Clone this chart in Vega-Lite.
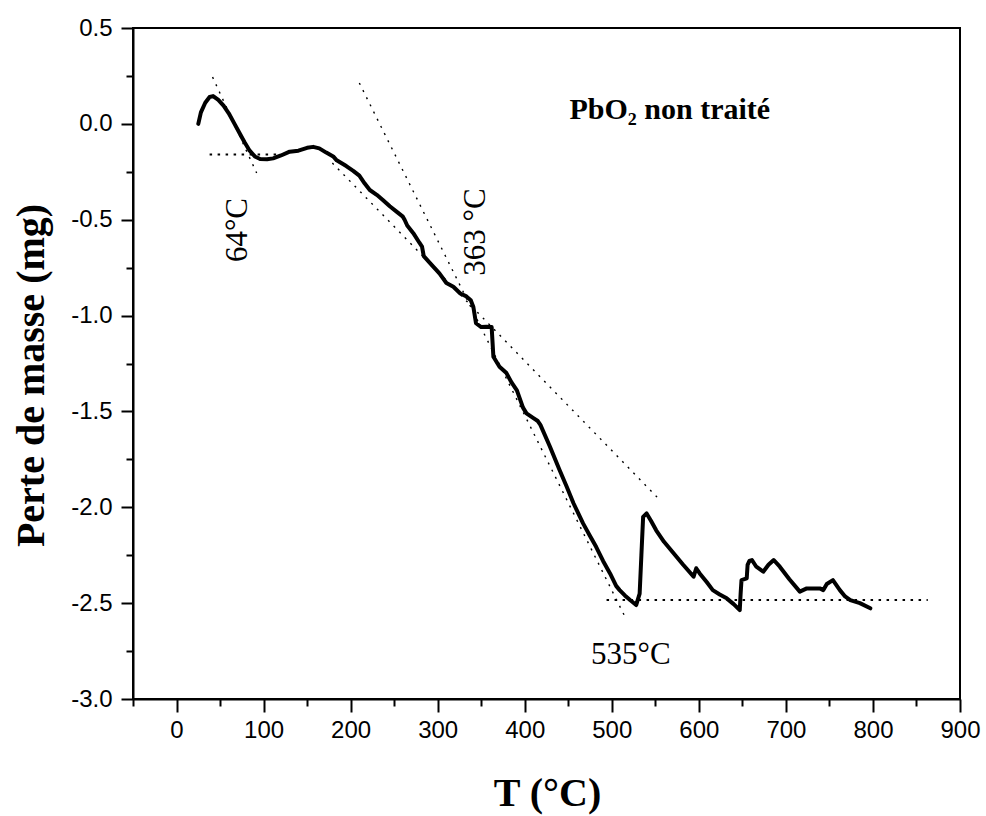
{
  "$schema": "https://vega.github.io/schema/vega-lite/v6.json",
  "width": 827,
  "height": 671,
  "autosize": {"type": "none"},
  "padding": {"left": 133, "top": 28, "right": 26, "bottom": 117},
  "background": "white",
  "config": {
    "view": {"stroke": "black", "strokeWidth": 2},
    "axis": {"grid": false, "domainColor": "black", "domainWidth": 2, "tickColor": "black", "tickWidth": 2, "labelColor": "black", "titleColor": "black", "labelFont": "Liberation Sans", "labelFontSize": 24, "titleFont": "Liberation Serif", "titleFontWeight": "bold", "titleFontSize": 40, "labelFlush": false, "labelOverlap": false}
  },
  "datasets": {
    "curve": [
      {"T": 25, "v": 0.0}, {"T": 28, "v": 0.06}, {"T": 33, "v": 0.11}, {"T": 38, "v": 0.14}, {"T": 42, "v": 0.145},
      {"T": 48, "v": 0.125}, {"T": 54, "v": 0.095}, {"T": 60, "v": 0.055}, {"T": 66, "v": 0.005}, {"T": 72, "v": -0.045},
      {"T": 78, "v": -0.095}, {"T": 84, "v": -0.14}, {"T": 90, "v": -0.17}, {"T": 96, "v": -0.183}, {"T": 104, "v": -0.185}, {"T": 111, "v": -0.18},
      {"T": 120, "v": -0.165}, {"T": 130, "v": -0.145}, {"T": 140, "v": -0.14}, {"T": 150, "v": -0.125}, {"T": 157, "v": -0.12},
      {"T": 164, "v": -0.128}, {"T": 172, "v": -0.15}, {"T": 180, "v": -0.17}, {"T": 184, "v": -0.19}, {"T": 195, "v": -0.22},
      {"T": 203, "v": -0.245}, {"T": 210, "v": -0.27}, {"T": 216, "v": -0.31}, {"T": 222, "v": -0.345}, {"T": 230, "v": -0.37},
      {"T": 237, "v": -0.397}, {"T": 245, "v": -0.43}, {"T": 252, "v": -0.455}, {"T": 260, "v": -0.484}, {"T": 262, "v": -0.5},
      {"T": 265, "v": -0.53}, {"T": 272, "v": -0.57}, {"T": 279, "v": -0.62}, {"T": 282, "v": -0.64}, {"T": 284, "v": -0.69},
      {"T": 292, "v": -0.73}, {"T": 302, "v": -0.78}, {"T": 310, "v": -0.83}, {"T": 318, "v": -0.85}, {"T": 326, "v": -0.885},
      {"T": 333, "v": -0.9}, {"T": 338, "v": -0.92}, {"T": 341, "v": -0.955}, {"T": 344, "v": -1.04}, {"T": 350, "v": -1.06},
      {"T": 356, "v": -1.058}, {"T": 362, "v": -1.06}, {"T": 364, "v": -1.215}, {"T": 371, "v": -1.267}, {"T": 379, "v": -1.3},
      {"T": 385, "v": -1.35}, {"T": 391, "v": -1.39}, {"T": 398, "v": -1.48}, {"T": 402, "v": -1.51}, {"T": 410, "v": -1.535},
      {"T": 415, "v": -1.55}, {"T": 418, "v": -1.57}, {"T": 429, "v": -1.684}, {"T": 440, "v": -1.806}, {"T": 448, "v": -1.89},
      {"T": 456, "v": -1.979}, {"T": 467, "v": -2.084}, {"T": 475, "v": -2.15}, {"T": 482, "v": -2.206}, {"T": 490, "v": -2.28},
      {"T": 498, "v": -2.345}, {"T": 505, "v": -2.41}, {"T": 509, "v": -2.432}, {"T": 515, "v": -2.46}, {"T": 521, "v": -2.484},
      {"T": 528, "v": -2.51}, {"T": 532, "v": -2.45}, {"T": 534, "v": -2.25}, {"T": 536, "v": -2.05}, {"T": 540, "v": -2.032},
      {"T": 545, "v": -2.07}, {"T": 551, "v": -2.12}, {"T": 560, "v": -2.18}, {"T": 571, "v": -2.24}, {"T": 582, "v": -2.3},
      {"T": 594, "v": -2.362}, {"T": 597, "v": -2.318}, {"T": 601, "v": -2.345}, {"T": 609, "v": -2.39}, {"T": 616, "v": -2.432},
      {"T": 624, "v": -2.455}, {"T": 632, "v": -2.475}, {"T": 640, "v": -2.505}, {"T": 647, "v": -2.536}, {"T": 648, "v": -2.45},
      {"T": 649, "v": -2.38}, {"T": 655, "v": -2.371}, {"T": 656, "v": -2.3}, {"T": 658, "v": -2.28}, {"T": 661, "v": -2.275},
      {"T": 666, "v": -2.31}, {"T": 674, "v": -2.336}, {"T": 680, "v": -2.3}, {"T": 686, "v": -2.275}, {"T": 693, "v": -2.31},
      {"T": 704, "v": -2.375}, {"T": 716, "v": -2.44}, {"T": 724, "v": -2.423}, {"T": 739, "v": -2.423}, {"T": 743, "v": -2.432},
      {"T": 747, "v": -2.4}, {"T": 754, "v": -2.38}, {"T": 762, "v": -2.432}, {"T": 768, "v": -2.465}, {"T": 774, "v": -2.484},
      {"T": 785, "v": -2.5}, {"T": 797, "v": -2.527}
    ],
    "tangents": [
      {"line": "t64", "T": 41.4, "v": 0.244}, {"line": "t64", "T": 92, "v": -0.256},
      {"line": "t363a", "T": 210, "v": 0.213}, {"line": "t363a", "T": 517, "v": -2.588},
      {"line": "t363b", "T": 179, "v": -0.204}, {"line": "t363b", "T": 552, "v": -1.947}
    ],
    "baselines": [
      {"line": "b64", "T": 38, "v": -0.16}, {"line": "b64", "T": 115, "v": -0.16},
      {"line": "b535", "T": 494, "v": -2.484}, {"line": "b535", "T": 863, "v": -2.484}
    ],
    "rotLabels": [
      {"text": "64°C", "T": 70.7, "v": -0.554},
      {"text": "363 °C", "T": 344.3, "v": -0.564}
    ],
    "hLabels": [
      {"text": "535°C", "T": 521.8, "v": -2.771}
    ],
    "note": [
      {"text": "PbO₂ non traité", "T": 566.7, "v": 0.072}
    ]
  },
  "layer": [
    {
      "data": {"name": "curve"},
      "mark": {"type": "line", "color": "black", "strokeWidth": 4, "strokeJoin": "round", "strokeCap": "round"},
      "encoding": {
        "x": {
          "field": "T", "type": "quantitative",
          "scale": {"domain": [-50, 900], "nice": false, "zero": false},
          "axis": {
            "title": "T (°C)",
            "values": [-50, 0, 50, 100, 150, 200, 250, 300, 350, 400, 450, 500, 550, 600, 650, 700, 750, 800, 850, 900],
            "format": "d",
            "labelExpr": "datum.value % 100 === 0 ? datum.label : ''",
            "tickSize": {"condition": {"test": "datum.value % 100 === 0", "value": 13}, "value": 7},
            "labelPadding": 6,
            "titleX": 414, "titleY": 106, "titleBaseline": "alphabetic", "titleAlign": "center", "titleAngle": 0
          }
        },
        "y": {
          "field": "v", "type": "quantitative",
          "scale": {"domain": [-3, 0.5], "nice": false, "zero": false},
          "axis": {
            "title": "Perte de masse (mg)",
            "values": [-3, -2.75, -2.5, -2.25, -2, -1.75, -1.5, -1.25, -1, -0.75, -0.5, -0.25, 0, 0.25, 0.5],
            "format": ".1f",
            "labelExpr": "abs(datum.value * 2 - round(datum.value * 2)) < 0.01 ? replace(datum.label, '−', '-') : ''",
            "tickSize": {"condition": {"test": "abs(datum.value * 2 - round(datum.value * 2)) < 0.01", "value": 12}, "value": 7},
            "labelPadding": 9,
            "titleX": -90, "titleY": 347, "titleBaseline": "alphabetic", "titleAlign": "center", "titleAngle": -90
          }
        }
      }
    },
    {
      "data": {"name": "tangents"},
      "mark": {"type": "line", "color": "black", "strokeWidth": 1.4, "strokeDash": [2, 6]},
      "encoding": {
        "x": {"field": "T", "type": "quantitative"},
        "y": {"field": "v", "type": "quantitative"},
        "detail": {"field": "line"}
      }
    },
    {
      "data": {"name": "baselines"},
      "mark": {"type": "line", "color": "black", "strokeWidth": 2, "strokeDash": [2.5, 5.5]},
      "encoding": {
        "x": {"field": "T", "type": "quantitative"},
        "y": {"field": "v", "type": "quantitative"},
        "detail": {"field": "line"}
      }
    },
    {
      "data": {"name": "rotLabels"},
      "mark": {"type": "text", "font": "Liberation Serif", "fontSize": 31, "angle": 270, "align": "center", "baseline": "middle", "color": "black"},
      "encoding": {
        "x": {"field": "T", "type": "quantitative"},
        "y": {"field": "v", "type": "quantitative"},
        "text": {"field": "text"}
      }
    },
    {
      "data": {"name": "hLabels"},
      "mark": {"type": "text", "font": "Liberation Serif", "fontSize": 31, "align": "center", "baseline": "middle", "color": "black"},
      "encoding": {
        "x": {"field": "T", "type": "quantitative"},
        "y": {"field": "v", "type": "quantitative"},
        "text": {"field": "text"}
      }
    },
    {
      "data": {"name": "note"},
      "mark": {"type": "text", "font": "Liberation Serif", "fontSize": 30, "fontWeight": "bold", "align": "center", "baseline": "middle", "color": "black"},
      "encoding": {
        "x": {"field": "T", "type": "quantitative"},
        "y": {"field": "v", "type": "quantitative"},
        "text": {"field": "text"}
      }
    }
  ]
}
